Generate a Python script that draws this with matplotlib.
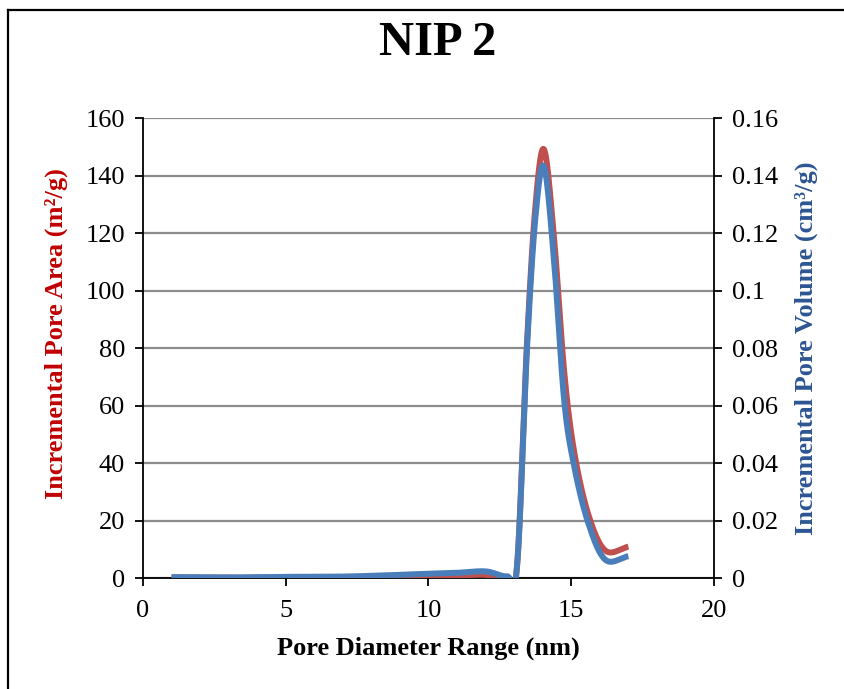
import numpy as np
import matplotlib
matplotlib.use("Agg")
import matplotlib.pyplot as plt
from matplotlib.lines import Line2D

# Pore size distribution data
diameter_nm = [1.0, 3.0, 5.0, 7.0, 9.0, 10.0, 11.0, 12.0, 12.75, 13.1, 13.45,
               13.75, 14.05, 14.4, 14.75, 15.1, 15.6, 16.2, 17.0]
pore_area = [0.2, 0.1, 0.2, 0.3, 0.5, 0.7, 0.9, 1.1, 0.0, 4.0, 82.0,
             130.0, 149.0, 118.0, 72.0, 44.0, 22.0, 9.5, 10.9]
pore_volume = [0.0003, 0.0002, 0.0004, 0.0005, 0.0011, 0.0015, 0.0018, 0.0023,
               0.0006, 0.004, 0.080, 0.126, 0.143, 0.110, 0.062, 0.039, 0.019,
               0.0063, 0.0076]

x_ticks = [0, 5, 10, 15, 20]
area_ticks = [0, 20, 40, 60, 80, 100, 120, 140, 160]
volume_ticks = [0, 0.02, 0.04, 0.06, 0.08, 0.1, 0.12, 0.14, 0.16]
volume_tick_labels = ["0", "0.02", "0.04", "0.06", "0.08", "0.1", "0.12", "0.14", "0.16"]


def smooth_curve(x, y, n=30):
    """Cardinal (Catmull-Rom) spline through the points, like a smoothed line chart."""
    x = np.asarray(x, float)
    y = np.asarray(y, float)
    px = np.concatenate([[2 * x[0] - x[1]], x, [2 * x[-1] - x[-2]]])
    py = np.concatenate([[2 * y[0] - y[1]], y, [2 * y[-1] - y[-2]]])
    xs, ys = [], []
    t = np.linspace(0, 1, n, endpoint=False)
    for i in range(1, len(px) - 2):
        p0, p1, p2, p3 = (np.array([px[j], py[j]]) for j in range(i - 1, i + 3))
        c1 = p1 + (p2 - p0) / 6.0
        c2 = p2 - (p3 - p1) / 6.0
        b = ((1 - t) ** 3)[:, None] * p1 + (3 * (1 - t) ** 2 * t)[:, None] * c1 \
            + (3 * (1 - t) * t ** 2)[:, None] * c2 + (t ** 3)[:, None] * p2
        xs.append(b[:, 0])
        ys.append(b[:, 1])
    xs.append([x[-1]])
    ys.append([y[-1]])
    return np.concatenate(xs), np.concatenate(ys)


plt.rcParams["font.family"] = ["Liberation Serif", "DejaVu Serif"]

fig = plt.figure(figsize=(8.45, 6.89), dpi=100)
ax = fig.add_axes([0.1692, 0.1611, 0.6758, 0.6676])
ax2 = ax.twinx()

red = "#C0504D"
blue = "#4A7EBB"

xa, ya = smooth_curve(diameter_nm, pore_area)
xv, yv = smooth_curve(diameter_nm, pore_volume)
ax.plot(xa, ya, color=red, lw=4.3, solid_capstyle="butt", zorder=3)
ax2.plot(xv, yv, color=blue, lw=4.3, solid_capstyle="butt", zorder=3)

ax.set_xlim(0, 20)
ax.set_ylim(0, 160)
ax2.set_ylim(0, 0.16)
ax.set_xticks(x_ticks)
ax.set_yticks(area_ticks)
ax2.set_yticks(volume_ticks)
ax2.set_yticklabels(volume_tick_labels)

ax.yaxis.grid(True, color="#8C8C8C", lw=1.6)
ax.set_axisbelow(True)

for a in (ax, ax2):
    a.spines["top"].set_visible(False)
    for s in ("left", "right", "bottom"):
        a.spines[s].set_linewidth(1.3)
        a.spines[s].set_color("black")
    a.tick_params(labelsize=19, width=1.3, length=6, direction="out", colors="black", pad=7)
ax.tick_params(axis="x", pad=10)
ax2.spines["left"].set_visible(False)
ax2.spines["bottom"].set_visible(False)
ax.spines["right"].set_visible(False)

ax.set_xlabel("Pore Diameter Range (nm)", fontsize=19, fontweight="bold", labelpad=10)
ax.set_ylabel("Incremental Pore Area (m²/g)", fontsize=19, fontweight="bold",
              color="#C00000", labelpad=10)
ax.yaxis.set_label_coords(-0.131, 0.532)
ax2.set_ylabel("Incremental Pore Volume (cm³/g)", fontsize=19, fontweight="bold",
               color="#2C5592", labelpad=12)

fig.text(0.518, 0.937, "NIP 2", ha="center", va="center", fontsize=35, fontweight="bold")

# Chart frame
fig.add_artist(Line2D([8 / 845, 8 / 845], [0, 1 - 10 / 689], color="black", lw=1.6,
                      transform=fig.transFigure))
fig.add_artist(Line2D([8 / 845, 1], [1 - 10 / 689, 1 - 10 / 689], color="black", lw=1.6,
                      transform=fig.transFigure))

fig.savefig("out.png", dpi=100, facecolor="white")
